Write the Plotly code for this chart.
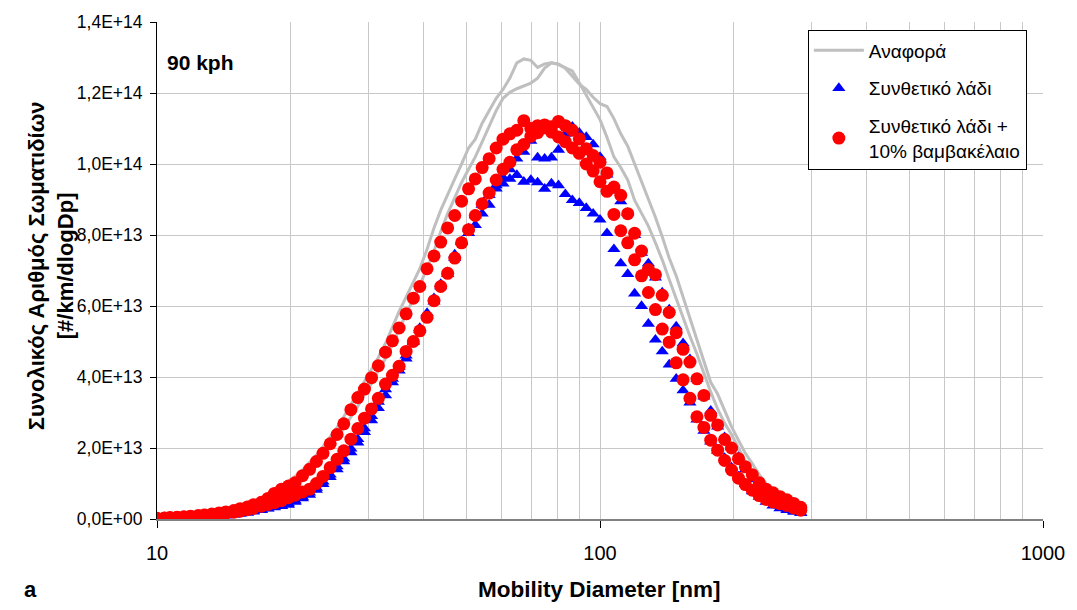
import numpy as np
import plotly.graph_objects as go

# Mobility diameter bins [nm]
diam = [10.0, 10.4, 10.7, 11.1, 11.5, 11.9, 12.4, 12.8, 13.3, 13.8,
        14.3, 14.9, 15.4, 16.0, 16.5, 17.2, 17.8, 18.4, 19.1, 19.8,
        20.5, 21.3, 22.1, 22.9, 23.7, 24.6, 25.5, 26.4, 27.4, 28.4,
        29.4, 30.5, 31.6, 32.8, 34.0, 35.2, 36.5, 37.9, 39.2, 40.7,
        42.2, 43.7, 45.3, 47.0, 48.7, 50.5, 52.3, 54.2, 56.2, 58.3,
        60.4, 62.6, 64.9, 67.3, 69.8, 72.3, 75.0, 77.7, 80.6, 83.5,
        86.6, 89.8, 93.1, 96.5, 100.0, 103.7, 107.5, 111.4, 115.5, 119.7,
        124.1, 128.6, 133.4, 138.2, 143.3, 148.6, 154.0, 159.6, 165.5, 171.6,
        177.8, 184.3, 191.1, 198.1, 205.4, 212.9, 220.7, 228.8, 237.1, 245.8,
        254.8, 264.2, 273.8, 283.9]

# values in units of 1e13 #/km/dlogDp
ref_run1 = [0.03, 0.04, 0.05, 0.06, 0.07, 0.09, 0.11, 0.13, 0.16, 0.19,
            0.23, 0.28, 0.33, 0.40, 0.47, 0.56, 0.66, 0.78, 0.92, 1.06,
            1.20, 1.38, 1.58, 1.80, 2.04, 2.30, 2.58, 2.88, 3.22, 3.55,
            3.88, 4.22, 4.55, 4.95, 5.40, 5.85, 6.25, 6.65, 7.05, 7.60,
            8.20, 8.70, 9.15, 9.58, 10.00, 10.45, 10.70, 11.15, 11.50, 11.85,
            12.10, 12.42, 12.85, 12.96, 12.92, 12.72, 12.82, 12.85, 12.80, 12.72,
            12.62, 12.29, 11.95, 11.60, 11.25, 10.75, 10.20, 9.90, 9.55, 8.98,
            8.60, 8.25, 7.78, 7.30, 6.75, 6.20, 5.70, 5.15, 4.65, 4.10,
            3.58, 3.10, 2.70, 2.38, 1.98, 1.62, 1.30, 1.05, 0.85, 0.67,
            0.52, 0.40, 0.31, 0.24]
ref_run2 = [0.02, 0.03, 0.04, 0.05, 0.06, 0.07, 0.09, 0.11, 0.13, 0.16,
            0.19, 0.23, 0.28, 0.33, 0.39, 0.46, 0.55, 0.65, 0.76, 0.88,
            1.02, 1.18, 1.36, 1.56, 1.78, 2.02, 2.28, 2.56, 2.86, 3.18,
            3.50, 3.82, 4.18, 4.52, 4.92, 5.35, 5.78, 6.20, 6.60, 7.05,
            7.55, 8.10, 8.60, 9.05, 9.48, 9.85, 10.20, 10.62, 11.05, 11.50,
            11.85, 12.02, 12.12, 12.20, 12.28, 12.42, 12.70, 12.85, 12.82, 12.70,
            12.48, 12.25, 12.10, 11.88, 11.70, 11.62, 11.28, 10.85, 10.50, 10.00,
            9.50, 9.05, 8.50, 7.95, 7.35, 6.85, 6.25, 5.60, 5.00, 4.45,
            3.85, 3.52, 3.05, 2.60, 2.22, 1.85, 1.56, 1.25, 1.00, 0.80,
            0.62, 0.48, 0.38, 0.29]
syn_run1 = [0.00, 0.01, 0.01, 0.02, 0.02, 0.03, 0.04, 0.05, 0.06, 0.08,
            0.10, 0.12, 0.15, 0.18, 0.21, 0.25, 0.29, 0.33, 0.36, 0.40,
            0.48, 0.58, 0.68, 0.82, 0.98, 1.18, 1.40, 1.62, 1.88, 2.15,
            2.45, 2.78, 3.12, 3.48, 3.85, 4.18, 4.52, 4.98, 5.32, 5.72,
            6.12, 6.55, 6.95, 7.45, 7.82, 8.18, 8.55, 8.85, 9.12, 9.40,
            9.62, 9.85, 10.15, 10.34, 10.65, 10.18, 10.15, 10.18, 10.40, 10.85,
            11.05, 10.88, 10.76, 10.55, 10.20, 9.70, 9.25, 8.95, 8.62, 8.00,
            7.50, 7.20, 6.80, 6.38, 5.90, 5.42, 4.95, 4.50, 3.95, 3.45,
            3.05, 2.60, 2.30, 2.02, 1.75, 1.40, 1.12, 0.90, 0.65, 0.50,
            0.38, 0.29, 0.22, 0.17]
syn_run2 = [0.01, 0.01, 0.02, 0.02, 0.03, 0.03, 0.04, 0.05, 0.07, 0.08,
            0.10, 0.13, 0.15, 0.18, 0.22, 0.26, 0.30, 0.34, 0.38, 0.44,
            0.52, 0.62, 0.74, 0.88, 1.05, 1.25, 1.48, 1.70, 1.98, 2.25,
            2.55, 2.90, 3.30, 3.65, 3.95, 4.28, 4.60, 5.02, 5.38, 5.80,
            6.22, 6.62, 6.90, 7.35, 7.80, 8.05, 8.28, 8.60, 8.85, 9.31,
            9.45, 9.58, 9.69, 9.50, 9.55, 9.48, 9.30, 9.45, 9.40, 9.15,
            8.98, 8.90, 8.76, 8.60, 8.43, 8.05, 7.60, 7.20, 6.90, 6.35,
            6.00, 5.50, 5.05, 4.72, 4.35, 3.95, 3.62, 3.28, 2.80, 2.48,
            2.18, 1.92, 1.72, 1.45, 1.20, 0.98, 0.78, 0.62, 0.48, 0.38,
            0.30, 0.25, 0.20, 0.17]
cot_run1 = [0.02, 0.03, 0.04, 0.05, 0.06, 0.08, 0.10, 0.11, 0.14, 0.17,
            0.20, 0.24, 0.29, 0.34, 0.40, 0.47, 0.58, 0.72, 0.84, 0.93,
            1.02, 1.22, 1.40, 1.62, 1.85, 2.12, 2.38, 2.68, 3.08, 3.42,
            3.66, 3.98, 4.32, 4.70, 5.02, 5.38, 5.78, 6.22, 6.55, 7.05,
            7.41, 7.80, 8.20, 8.55, 8.95, 9.30, 9.58, 9.90, 10.15, 10.45,
            10.70, 10.85, 10.95, 11.22, 11.00, 11.08, 11.10, 11.05, 11.20, 11.08,
            10.95, 10.71, 10.43, 10.24, 10.05, 9.75, 9.35, 9.12, 8.60, 8.05,
            7.55, 7.03, 6.88, 6.30, 5.82, 5.25, 4.78, 4.42, 3.95, 3.48,
            2.92, 2.65, 2.24, 2.00, 1.70, 1.47, 1.25, 1.02, 0.84, 0.74,
            0.63, 0.54, 0.44, 0.33]
cot_run2 = [0.01, 0.02, 0.03, 0.04, 0.05, 0.06, 0.07, 0.09, 0.11, 0.13,
            0.16, 0.19, 0.22, 0.26, 0.30, 0.36, 0.41, 0.46, 0.52, 0.60,
            0.67, 0.76, 0.84, 1.00, 1.20, 1.45, 1.68, 1.92, 2.25, 2.55,
            2.84, 3.10, 3.40, 3.80, 4.05, 4.30, 4.72, 5.00, 5.30, 5.68,
            6.15, 6.55, 6.92, 7.35, 7.78, 8.15, 8.55, 8.88, 9.18, 9.55,
            9.85, 10.05, 10.40, 10.55, 10.78, 10.88, 11.02, 10.90, 10.76, 10.63,
            10.45, 10.30, 10.00, 9.80, 9.50, 9.23, 8.58, 8.12, 7.78, 7.30,
            6.85, 6.38, 5.90, 5.35, 4.98, 4.40, 3.92, 3.40, 2.88, 2.58,
            2.22, 1.94, 1.65, 1.38, 1.15, 0.97, 0.81, 0.66, 0.55, 0.48,
            0.43, 0.38, 0.31, 0.25]

UNIT = 1e13
y_tickvals = [0, 2e13, 4e13, 6e13, 8e13, 1e14, 1.2e14, 1.4e14]
y_ticktext = ["0,0E+00", "2,0E+13", "4,0E+13", "6,0E+13", "8,0E+13",
              "1,0E+14", "1,2E+14", "1,4E+14"]
x_tickvals = [10, 100, 1000]
x_ticktext = ["10", "100", "1000"]
x_minor = [20, 30, 40, 50, 60, 70, 80, 90, 200, 300, 400, 500, 600, 700, 800, 900]

names = ["Αναφορά", "Συνθετικό λάδι", "Συνθετικό λάδι +<br>10% βαμβακέλαιο"]

FONT = "Arial, Liberation Sans, sans-serif"
fig = go.Figure()

def scaled(v):
    return (np.array(v) * UNIT).tolist()

for i, run in enumerate([ref_run1, ref_run2]):
    fig.add_trace(go.Scatter(x=diam, y=scaled(run), mode="lines",
                             line=dict(color="#BFBFBF", width=3),
                             name=names[0], legendgroup="ref",
                             showlegend=(i == 0)))
for i, run in enumerate([syn_run1, syn_run2]):
    fig.add_trace(go.Scatter(x=diam, y=scaled(run), mode="markers",
                             marker=dict(symbol="triangle-up", size=11.5, color="#0000FF",
                                         line=dict(width=0)),
                             name=names[1], legendgroup="syn",
                             showlegend=(i == 0)))
for i, run in enumerate([cot_run1, cot_run2]):
    fig.add_trace(go.Scatter(x=diam, y=scaled(run), mode="markers",
                             marker=dict(symbol="circle", size=13, color="#FF0000",
                                         line=dict(width=0)),
                             name=names[2], legendgroup="cot",
                             showlegend=(i == 0)))

fig.update_layout(
    width=1077, height=610,
    margin=dict(l=157, r=27, t=14, b=91),
    paper_bgcolor="white", plot_bgcolor="white",
    font=dict(family=FONT, color="black", size=17),
    showlegend=True,
    legend=dict(x=0.7346, y=0.983, xanchor="left", yanchor="top",
                bgcolor="white", bordercolor="black", borderwidth=1,
                font=dict(family=FONT, size=19, color="black"),
                tracegroupgap=10, itemwidth=50, traceorder="grouped"),
    xaxis=dict(type="log", range=[1, 3], tickvals=x_tickvals, ticktext=x_ticktext,
               showgrid=True, gridcolor="#C8C8C8", gridwidth=1,
               minor=dict(tickvals=x_minor, showgrid=True, gridcolor="#C8C8C8",
                          gridwidth=1, ticks=""),
               ticks="outside", ticklen=7, tickcolor="black", tickwidth=1,
               showline=True, linecolor="#808080", linewidth=2,
               tickfont=dict(size=20, family=FONT), ticklabelstandoff=8,
               zeroline=False),
    yaxis=dict(range=[0, 1.4e14], tickvals=y_tickvals, ticktext=y_ticktext,
               showgrid=True, gridcolor="#C8C8C8", gridwidth=1,
               ticks="outside", ticklen=6, tickcolor="black", tickwidth=1,
               showline=True, linecolor="black", linewidth=1,
               tickfont=dict(size=17.5, family=FONT), ticklabelstandoff=4,
               zeroline=False),
    annotations=[
        dict(text="<b>Mobility Diameter [nm]</b>", xref="paper", yref="paper",
             x=0.4994, y=-0.1414, xanchor="center", yanchor="middle",
             showarrow=False, font=dict(size=22.5, family=FONT)),
        dict(text="<b>Συνολικός Αριθμός Σωματιδίων<br>[#/km/dlogDp]</b>",
             xref="paper", yref="paper", x=-0.12, y=0.51, textangle=-90,
             xanchor="center", yanchor="middle", showarrow=False,
             font=dict(size=22, family=FONT)),
        dict(text="<b>90 kph</b>", xref="paper", yref="paper", x=0.009, y=0.918,
             xanchor="left", yanchor="middle", showarrow=False,
             font=dict(size=21, family=FONT)),
        dict(text="<b>a</b>", xref="paper", yref="paper", x=-0.152, y=-0.1414,
             xanchor="left", yanchor="middle", showarrow=False,
             font=dict(size=22, family=FONT)),
    ],
)

fig.write_html("out.html",
               config={"displayModeBar": False},
               post_script="document.body.style.margin='0';document.body.style.padding='0';")
